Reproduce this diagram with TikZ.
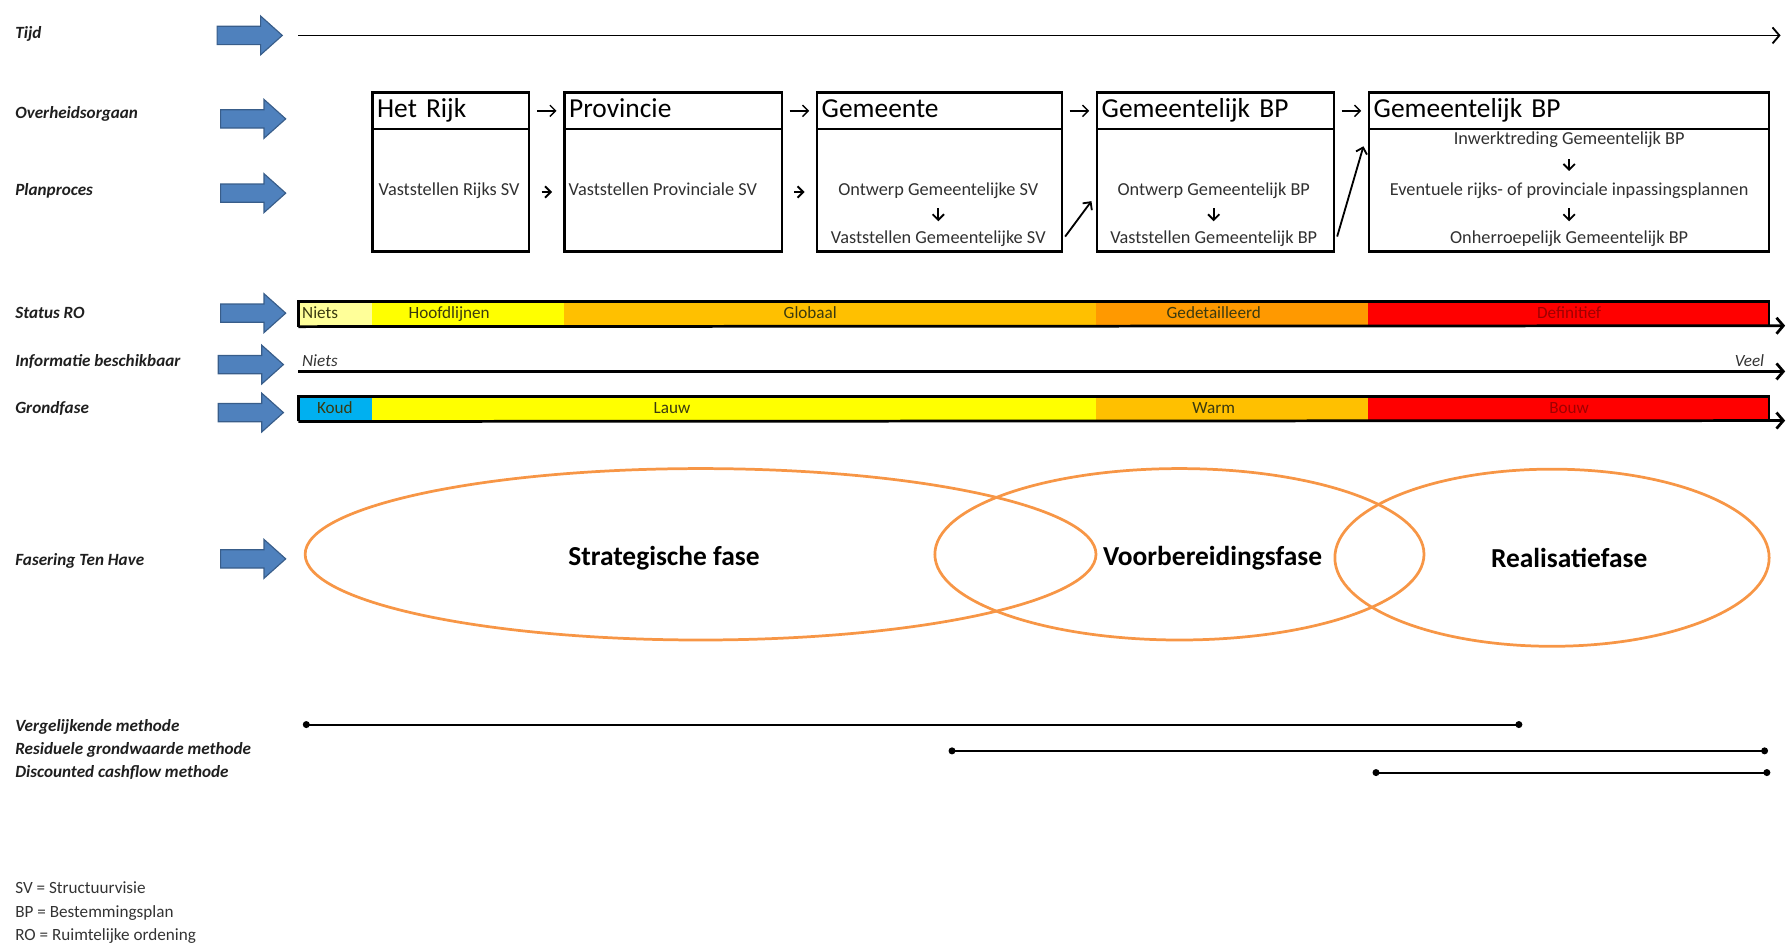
\documentclass[tikz,border=0pt]{standalone}
\usepackage{fontspec}
\setmainfont{Carlito}
\usetikzlibrary{arrows.meta,shapes.geometric}
\definecolor{bluefill}{HTML}{4F81BD}
\definecolor{blueline}{HTML}{385D8A}
\definecolor{paleyellow}{HTML}{FFFF99}
\definecolor{yel}{HTML}{FFFF00}
\definecolor{amber}{HTML}{FFC000}
\definecolor{orng}{HTML}{FF9900}
\definecolor{redd}{HTML}{FF0000}
\definecolor{cyanb}{HTML}{00B0F0}
\definecolor{phaseorange}{HTML}{F79646}
\definecolor{txtgray}{HTML}{303030}
\definecolor{segtext}{HTML}{3A3A10}
\definecolor{darkred}{HTML}{A00000}
\newcommand\BlueArr[2]{%
  \draw[fill=bluefill,draw=blueline,line width=0.5pt]
    (#1,{#2-8}) -- ({#1+38},{#2-8}) -- ({#1+38},{#2-17}) -- ({#1+57},#2)
    -- ({#1+38},{#2+17}) -- ({#1+38},{#2+8}) -- (#1,{#2+8}) -- cycle;}
\begin{document}
\begin{tikzpicture}[x=0.5pt,y=-0.5pt,
  lab/.style={anchor=west,font=\fontsize{7.5}{9}\selectfont\bfseries\itshape,text=black!88,inner sep=0,text height=5.5pt,text depth=1.5pt},
  leg/.style={anchor=west,font=\fontsize{7.5}{9}\selectfont,text=black!80,inner sep=0,text height=5.5pt,text depth=1.5pt},
  hdrbox/.style={draw,line width=1pt,anchor=north west,minimum height=16pt,inner xsep=2pt,inner ysep=0pt,align=left,font=\fontsize{12}{12}\selectfont,text height=8.6pt,text depth=2.4pt},
  bodybox/.style={draw,line width=1pt,anchor=north west,minimum height=53.5pt},
  ptxt/.style={font=\fontsize{8}{9}\selectfont,text=txtgray,inner sep=1pt,text height=6pt,text depth=2pt},
  conn/.style={-{Straight Barb[length=2.5pt,width=5pt]},line width=0.6pt},
  dconn/.style={-{Straight Barb[length=2.5pt,width=5pt]},line width=0.8pt},
  seg/.style={anchor=north west,minimum height=10.5pt,inner sep=0,draw=none},
  segtxt/.style={font=\fontsize{7.5}{9}\selectfont,text=segtext,inner sep=0,text height=5.5pt,text depth=1.5pt},
  axisarr/.style={-{Straight Barb[length=3pt,width=7pt]},line width=0.8pt},
  phase/.style={draw=phaseorange,line width=1.2pt,ellipse,inner sep=0},
  ptitle/.style={font=\fontsize{12}{14}\selectfont\bfseries,inner sep=0},
  meth/.style={{Circle[length=3pt]}-{Circle[length=3pt]},line width=0.9pt},
  infotxt/.style={font=\fontsize{7.5}{9}\selectfont\itshape,text=black!80,inner sep=0,text height=5.5pt,text depth=1.5pt}
]
\useasboundingbox (0,0) rectangle (1568,830);

% left labels
\node[lab] (lTijd) at (13,30) {Tijd};
\node[lab] (lOver) at (13,100) {Overheidsorgaan};
\node[lab] (lPlan) at (13,167) {Planproces};
\node[lab] (lStat) at (13,275) {Status RO};
\node[lab] (lInfo) at (13,317) {Informatie beschikbaar};
\node[lab] (lGrond) at (13,358) {Grondfase};
\node[lab] (lFas) at (13,491) {Fasering Ten Have};
\node[lab] (lVerg) at (13,636) {Vergelijkende methode};
\node[lab] (lRes) at (13,656) {Residuele grondwaarde methode};
\node[lab] (lDisc) at (13,676) {Discounted cashflow methode};

% legend
\node[leg] (lgSV) at (13,778) {SV = Structuurvisie};
\node[leg] (lgBP) at (13,799) {BP = Bestemmingsplan};
\node[leg] (lgRO) at (13,819) {RO = Ruimtelijke ordening};

% blue arrows
\BlueArr{190}{31}
\BlueArr{193}{104}
\BlueArr{193}{169}
\BlueArr{193}{274}
\BlueArr{191}{319}
\BlueArr{191}{361}
\BlueArr{193}{489}

% time axis
\coordinate (t0) at (261,31);
\coordinate (t1) at (1558,31);
\draw[axisarr] (t0) -- (t1);

% header boxes
\node[hdrbox,text width=64.5pt] (h1) at (325,80) {Het Rijk};
\node[hdrbox,text width=91pt] (h2) at (493,80) {Provincie};
\node[hdrbox,text width=103pt] (h3) at (714,80) {Gemeente};
\node[hdrbox,text width=99.5pt] (h4) at (959,80) {Gemeentelijk BP};
\node[hdrbox,text width=171pt] (h5) at (1197,80) {Gemeentelijk BP};
\draw[conn,shorten <=3pt,shorten >=3pt] (h1.east) -- (h2.west);
\draw[conn,shorten <=3pt,shorten >=3pt] (h2.east) -- (h3.west);
\draw[conn,shorten <=3pt,shorten >=3pt] (h3.east) -- (h4.west);
\draw[conn,shorten <=3pt,shorten >=3pt] (h4.east) -- (h5.west);

% body boxes
\node[bodybox,minimum width=68.5pt] (b1) at (325,112) {};
\node[bodybox,minimum width=95pt] (b2) at (493,112) {};
\node[bodybox,minimum width=107pt] (b3) at (714,112) {};
\node[bodybox,minimum width=103.5pt] (b4) at (959,112) {};
\node[bodybox,minimum width=175pt] (b5) at (1197,112) {};
\draw[dconn,shorten <=5pt,shorten >=5pt] ([yshift=-0.75pt]b1.east) -- ([yshift=-0.75pt]b2.west);
\draw[dconn,shorten <=5pt,shorten >=5pt] ([yshift=-0.75pt]b2.east) -- ([yshift=-0.75pt]b3.west);
\draw[dconn] ([xshift=1pt,yshift=7pt]b3.south east) -- ([xshift=-2pt,yshift=-4.75pt]b4.west);
\draw[dconn] ([xshift=1pt,yshift=7pt]b4.south east) -- ([xshift=-2pt,yshift=-8pt]b5.north west);

% box texts
\node[ptxt] (p1) at (393,167) {Vaststellen Rijks SV};
\node[ptxt] (p2) at (580,167) {Vaststellen Provinciale SV};
\node[ptxt] (p3a) at (821,167) {Ontwerp Gemeentelijke SV};
\node[ptxt] (p3b) at (821,209) {Vaststellen Gemeentelijke SV};
\node[ptxt] (p4a) at (1062,167) {Ontwerp Gemeentelijk BP};
\node[ptxt] (p4b) at (1062,209) {Vaststellen Gemeentelijk BP};
\node[ptxt] (p5a) at (1373,122) {Inwerktreding Gemeentelijk BP};
\node[ptxt] (p5b) at (1373,167) {Eventuele rijks- of provinciale inpassingsplannen};
\node[ptxt] (p5c) at (1373,209) {Onherroepelijk Gemeentelijk BP};
\draw[dconn,shorten <=2.5pt,shorten >=2.5pt] (p3a.south) -- (p3b.north);
\draw[dconn,shorten <=2.5pt,shorten >=2.5pt] (p4a.south) -- (p4b.north);
\draw[dconn,shorten <=3.5pt,shorten >=3.5pt] (p5a.south) -- (p5b.north);
\draw[dconn,shorten <=2.5pt,shorten >=2.5pt] (p5b.south) -- (p5c.north);

% Status RO bar
\node[seg,fill=paleyellow,minimum width=32pt] (s1) at (261,264) {};
\node[seg,fill=yel,minimum width=84pt] (s2) at (325,264) {};
\node[seg,fill=amber,minimum width=233pt] (s3) at (493,264) {};
\node[seg,fill=orng,minimum width=119pt] (s4) at (959,264) {};
\node[seg,fill=redd,minimum width=175pt] (s5) at (1197,264) {};
\draw[line width=1.2pt] (s1.south west) |- (s5.north east) -- (s5.south east);
\coordinate (sEnd) at (1562,285);
\draw[axisarr,line width=1.2pt] (s1.south west) -- (sEnd);
\node[segtxt,anchor=west] (st1) at (264,275) {Niets};
\node[segtxt] (st2) at (393,275) {Hoofdlijnen};
\node[segtxt] (st3) at (709,275) {Globaal};
\node[segtxt] (st4) at (1062,275) {Gedetailleerd};
\node[segtxt,text=darkred] (st5) at (1373,275) {Definitief};

% Informatie beschikbaar
\coordinate (i0) at (261,325);
\coordinate (i1) at (1562,325);
\draw[axisarr,line width=1.2pt] (i0) -- (i1);
\node[infotxt,anchor=west] (iN) at (264,317) {Niets};
\node[infotxt,anchor=east] (iV) at (1544,317) {Veel};

% Grondfase bar
\node[seg,fill=cyanb,minimum width=32pt] (g1) at (261,347) {};
\node[seg,fill=yel,minimum width=317pt] (g2) at (325,347) {};
\node[seg,fill=amber,minimum width=119pt] (g3) at (959,347) {};
\node[seg,fill=redd,minimum width=175pt] (g4) at (1197,347) {};
\draw[line width=1.2pt] (g1.south west) |- (g4.north east) -- (g4.south east);
\coordinate (gEnd) at (1562,368);
\draw[axisarr,line width=1.2pt] (g1.south west) -- (gEnd);
\node[segtxt] (gt1) at (293,358) {Koud};
\node[segtxt] (gt2) at (588,358) {Lauw};
\node[segtxt] (gt3) at (1062,358) {Warm};
\node[segtxt,text=darkred] (gt4) at (1373,358) {Bouw};

% Fasering ellipses
\node[phase,minimum width=346pt,minimum height=75pt] (e1) at (613,485) {};
\node[phase,minimum width=214pt,minimum height=75pt] (e2) at (1032,485) {};
\node[phase,minimum width=190pt,minimum height=77.5pt] (e3) at (1358,488) {};
\node[ptitle] (f1) at (581,488) {Strategische fase};
\node[ptitle] (f2) at (1061,488) {Voorbereidingsfase};
\node[ptitle] (f3) at (1373,488) {Realisatiefase};

% methods
\coordinate (m1a) at (265,634);
\coordinate (m1b) at (1332,634);
\coordinate (m2a) at (830,657);
\coordinate (m2b) at (1547,657);
\coordinate (m3a) at (1201,676);
\coordinate (m3b) at (1549,676);
\draw[meth] (m1a) -- (m1b);
\draw[meth] (m2a) -- (m2b);
\draw[meth] (m3a) -- (m3b);
\end{tikzpicture}
\end{document}
